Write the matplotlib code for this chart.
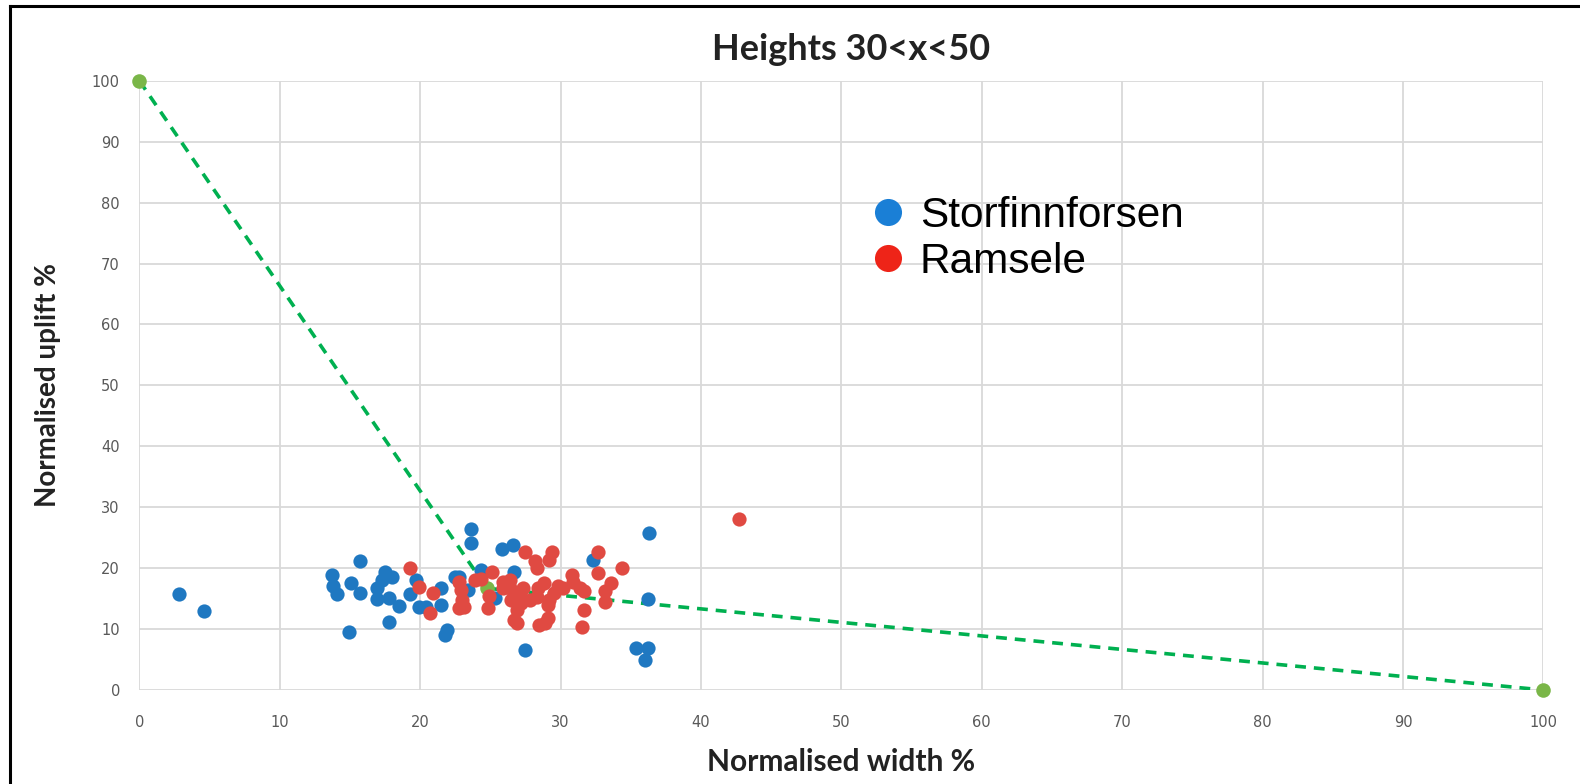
import matplotlib.pyplot as plt
from matplotlib.lines import Line2D

# Storfinnforsen points (width %, uplift %)
stor_x = [2.8, 4.6, 13.75, 13.8, 14.1, 14.9, 15.1, 15.7, 15.7, 16.9, 16.9, 17.3, 17.5, 18.0,
          17.8, 18.5, 17.75, 19.3, 19.7, 19.9, 20.4, 21.5, 21.5, 21.9, 21.8, 22.5, 22.8, 23.4,
          23.6, 23.6, 24.3, 25.3, 25.8, 26.6, 26.7, 27.5, 32.3, 36.3, 36.2, 35.4, 36.2, 36.0]
stor_y = [15.8, 13.0, 18.8, 17.1, 15.8, 9.5, 17.5, 21.1, 15.9, 16.7, 14.9, 18.1, 19.4, 18.6,
          15.1, 13.8, 11.2, 15.7, 18.1, 13.7, 13.7, 16.8, 14.0, 9.9, 9.0, 18.5, 18.5, 16.4,
          26.5, 24.2, 19.7, 15.1, 23.2, 23.8, 19.4, 6.6, 21.4, 25.8, 14.9, 6.9, 6.9, 4.9]

# Ramsele points
ram_x = [19.3, 19.9, 20.9, 20.7, 22.8, 22.9, 23.0, 22.8, 23.1, 23.9, 24.3, 25.1, 24.9, 24.8,
         25.9, 25.9, 26.4, 26.4, 26.5, 26.9, 26.7, 26.9, 27.1, 27.2, 27.3, 27.5, 27.8, 28.2,
         28.3, 28.3, 28.4, 28.8, 28.5, 28.9, 29.1, 29.1, 29.2, 29.2, 29.4, 29.5, 29.8, 30.2,
         30.8, 30.9, 31.4, 31.7, 31.7, 31.5, 32.7, 32.7, 33.2, 33.2, 33.6, 34.4, 42.7]
ram_y = [20.0, 16.9, 16.0, 12.6, 17.8, 16.4, 14.8, 13.4, 13.7, 18.1, 18.2, 19.4, 15.4, 13.4,
         17.8, 16.7, 18.1, 16.7, 14.8, 13.2, 11.5, 11.0, 15.6, 14.2, 16.7, 22.6, 14.8, 21.1,
         20.0, 15.3, 16.7, 17.5, 10.7, 11.0, 11.8, 14.0, 14.8, 21.4, 22.6, 15.9, 17.0, 16.7,
         18.9, 17.8, 16.7, 16.2, 13.2, 10.4, 22.6, 19.2, 16.2, 14.5, 17.5, 20.1, 28.1]

# dashed boundary line
line_x = [0, 24.75, 100]
line_y = [100, 16.7, 0]

ticks = list(range(0, 101, 10))

series_names = ['Storfinnforsen', 'Ramsele']
legend_colors = ['#1a7fd6', '#ee2418']

fig = plt.figure(figsize=(15.8, 7.84), dpi=100)
ax = fig.add_axes([0.0882, 0.1199, 0.8886, 0.7771])

ax.plot(line_x, line_y, color='#00b050', linestyle=(0, (3, 2.2)), linewidth=2.6, zorder=2)
ax.scatter([line_x[0], line_x[2]], [line_y[0], line_y[2]], s=110, color='#7ab648',
           zorder=4, linewidths=0, clip_on=False)
ax.scatter([line_x[1]], [line_y[1]], s=110, color='#7ab648', zorder=2, linewidths=0)

ax.scatter(stor_x, stor_y, s=105, color='#1f78c1', linewidths=0, zorder=3)
ax.scatter(ram_x, ram_y, s=105, color='#e04a42', linewidths=0, zorder=3)

ax.set_xlim(0, 100)
ax.set_ylim(0, 100)
ax.set_xticks(ticks)
ax.set_yticks(ticks)
ax.grid(True, color='#d9d9d9', linewidth=1.3)
ax.set_axisbelow(True)
for s in ax.spines.values():
    s.set_visible(False)
ax.tick_params(length=0, labelsize=10.5, labelcolor='#595959', pad=18)
ax.tick_params(axis='y', pad=14)

ax.set_title('Heights 30<x<50', fontsize=26, fontweight='bold', family='Lato', pad=15,
             color='#222222', x=0.507)
ax.set_xlabel('Normalised width %', fontsize=21.5, fontweight='bold', family='Lato', labelpad=13, color='#222222')
ax.set_ylabel('Normalised uplift %', fontsize=20, fontweight='bold', family='Lato', labelpad=22, color='#222222')

# legend drawn as in the original: big dots with text to the right
for i, (name, c) in enumerate(zip(series_names, legend_colors)):
    yc = 0.7845 - i * 0.0755
    ax.scatter([0.5333], [yc], s=380, color=c, linewidths=0, transform=ax.transAxes,
               clip_on=False, zorder=5)
    ax.text(0.556, yc - 0.025, name, fontsize=30.5, family='Liberation Sans',
            transform=ax.transAxes, va='baseline', ha='left', color='black')

# black border on top and left of the image
fig.add_artist(Line2D([0.0065, 1.0], [0.9925, 0.9925], transform=fig.transFigure,
                      color='black', linewidth=2.2))
fig.add_artist(Line2D([0.0065, 0.0065], [0.0, 0.9925], transform=fig.transFigure,
                      color='black', linewidth=2.2))

fig.savefig('out.png', dpi=100)
